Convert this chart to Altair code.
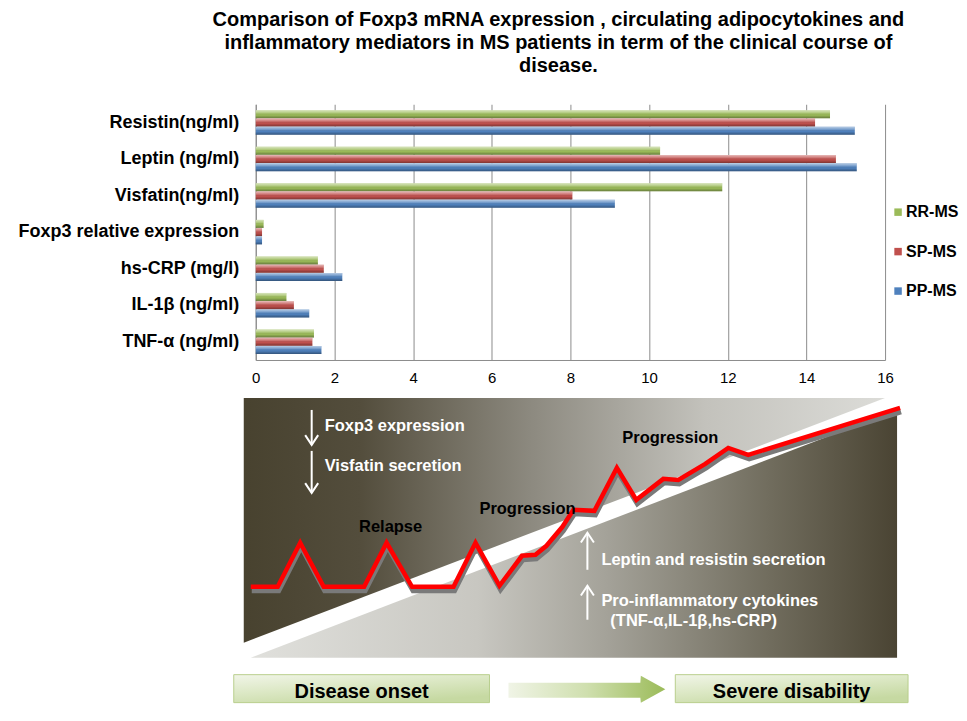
import altair as alt
import pandas as pd

FONT = "Liberation Sans"

# ---------------- bar chart data ----------------
categories = ["Resistin(ng/ml)", "Leptin (ng/ml)", "Visfatin(ng/ml)",
              "Foxp3 relative expression", "hs-CRP (mg/l)", "IL-1β (ng/ml)", "TNF-α (ng/ml)"]
series_names = ["RR-MS", "SP-MS", "PP-MS"]
rr_ms = [14.6, 10.28, 11.86, 0.2, 1.58, 0.78, 1.48]
sp_ms = [14.22, 14.75, 8.05, 0.16, 1.73, 0.97, 1.44]
pp_ms = [15.23, 15.28, 9.13, 0.16, 2.2, 1.36, 1.67]
x_ticks = [0, 2, 4, 6, 8, 10, 12, 14, 16]
series_colors = ["#9BBB59", "#C0504D", "#4F81BD"]
title_lines = ["Comparison of Foxp3 mRNA expression , circulating adipocytokines and",
               "inflammatory mediators  in MS patients in term of the clinical course of",
               "disease."]

# ---------------- schematic (disease course) data ----------------
# upper-left panel (gradient dark -> light)
upper_u = [-12, 630]
upper_top = [320, 320]
upper_bottom = [75, 320]
# lower-right panel (gradient light -> dark)
lower_u = [-5, 642]
lower_top = [60, 308]
lower_bottom = [60, 60]
# clinical course line
course_u = [-5, 22, 44.5, 68, 108.5, 131, 156.5, 198, 220, 244, 266.5, 280, 291, 307,
            318, 339, 361.5, 381, 408, 423, 450, 473, 493, 645]
course_v = [131, 131, 175, 131, 131, 175, 131, 131, 175, 132, 162, 163, 172, 191,
            208, 207, 250, 218, 239, 238, 254, 270, 263, 310]
# white annotations (left aligned)
note_text = ["Foxp3 expression", "Visfatin secretion", "Leptin and resistin secretion",
             "Pro-inflammatory cytokines", "(TNF-α,IL-1β,hs-CRP)"]
note_u = [69, 69, 346, 346, 355]
note_v = [292, 252, 158, 117, 97]
# phase labels (centered, black)
phase_text = ["Relapse", "Progression", "Progression"]
phase_u = [135, 272, 415]
phase_v = [191, 209, 280]
# thin arrows
arrow_u = [56, 56, 332, 332]
arrow_tail = [308, 267, 148, 98]
arrow_tip = [273, 225, 185, 132]
arrow_dir = ["down", "down", "up", "up"]
# boxes at the bottom
box_text = ["Disease onset", "Severe disability"]
box_u1 = [-22, 420]
box_u2 = [234, 653]
box_v1 = [15, 15]
box_v2 = [43, 43]
# block arrow between boxes
block_u = [253, 385, 385.5, 410]
block_top = [35, 35, 42, 28.5]
block_bottom = [20, 20, 15, 28.5]

# ================= top chart =================
bars_df = pd.DataFrame({
    "category": categories * 3,
    "series": [s for s in series_names for _ in categories],
    "value": rr_ms + sp_ms + pp_ms,
})

y_enc = alt.Y("category:N", sort=categories,
              scale=alt.Scale(paddingInner=0.33, paddingOuter=0.165),
              axis=alt.Axis(title=None, labelFontSize=18, labelFontWeight="bold",
                            labelColor="black", labelFont=FONT, labelPadding=17,
                            ticks=False, domainColor="#8c8c8c", labelLimit=400))
x_enc = alt.X("value:Q", scale=alt.Scale(domain=[0, 16], nice=False),
              axis=alt.Axis(values=x_ticks, title=None, labelFontSize=15, labelColor="black",
                            labelFont=FONT, grid=True, gridColor="#8c8c8c", ticks=False,
                            domainColor="#8c8c8c", labelPadding=11, labelFlush=False))
yoff = alt.YOffset("series:N", sort=series_names, scale=alt.Scale(paddingInner=0.03))

bars = alt.Chart(bars_df).mark_bar().encode(
    x=x_enc, y=y_enc, yOffset=yoff,
    color=alt.Color("series:N", sort=series_names,
                    scale=alt.Scale(domain=series_names, range=series_colors),
                    legend=alt.Legend(title=None, orient="none", legendX=635, legendY=100,
                                      labelFontSize=16, labelFontWeight="bold", labelFont=FONT,
                                      labelColor="black", symbolType="square", symbolSize=56,
                                      symbolStrokeWidth=0, rowPadding=23.5, labelOffset=0)),
)
shine = alt.Chart(bars_df).mark_bar(
    color=alt.Gradient(gradient="linear", x1=0, x2=0, y1=0, y2=1, stops=[
        alt.GradientStop(color="rgba(255,255,255,0.6)", offset=0),
        alt.GradientStop(color="rgba(255,255,255,0.2)", offset=0.35),
        alt.GradientStop(color="rgba(0,0,0,0)", offset=0.6),
        alt.GradientStop(color="rgba(0,0,0,0.35)", offset=1),
    ])
).encode(x=x_enc, y=y_enc, yOffset=yoff)

top = alt.layer(bars, shine).properties(
    width=630, height=256,
    title=alt.TitleParams(text=title_lines, fontSize=20, font=FONT, fontWeight="bold",
                          color="black", anchor="middle", frame="group", lineHeight=23,
                          offset=28, dx=-12),
)

# ================= bottom schematic =================
XS = alt.Scale(domain=[0, 645], nice=False, zero=False)
YS = alt.Scale(domain=[15, 320], nice=False, zero=False)


def bx(f):
    return alt.X(f, type="quantitative", scale=XS, axis=None)


def by(f):
    return alt.Y(f, type="quantitative", scale=YS, axis=None)


upper = alt.Chart(pd.DataFrame({"u": upper_u, "top": upper_top, "bottom": upper_bottom})).mark_area(
    color=alt.Gradient(gradient="linear", x1=0, x2=1, y1=0, y2=0, stops=[
        alt.GradientStop(color="#48422f", offset=0),
        alt.GradientStop(color="#534d3c", offset=0.18),
        alt.GradientStop(color="#8d8a80", offset=0.45),
        alt.GradientStop(color="#c3c2bc", offset=0.72),
        alt.GradientStop(color="#dcdcd8", offset=1),
    ])
).encode(x=bx("u"), y=by("top"), y2=alt.Y2("bottom"))

lower = alt.Chart(pd.DataFrame({"u": lower_u, "top": lower_top, "bottom": lower_bottom})).mark_area(
    color=alt.Gradient(gradient="linear", x1=0, x2=1, y1=0, y2=0, stops=[
        alt.GradientStop(color="#e0e0dc", offset=0),
        alt.GradientStop(color="#c8c7c1", offset=0.35),
        alt.GradientStop(color="#a4a299", offset=0.55),
        alt.GradientStop(color="#716d5e", offset=0.8),
        alt.GradientStop(color="#4a4433", offset=1),
    ])
).encode(x=bx("u"), y=by("top"), y2=alt.Y2("bottom"))

course_df = pd.DataFrame({"u": course_u, "v": course_v, "i": list(range(len(course_u)))})
shadow = alt.Chart(course_df).mark_line(color="#7a7a7a", strokeWidth=5, yOffset=4, xOffset=1,
                                        strokeJoin="miter").encode(
    x=bx("u"), y=by("v"), order="i:Q")
course = alt.Chart(course_df).mark_line(color="#ff0000", strokeWidth=4.5, strokeJoin="miter").encode(
    x=bx("u"), y=by("v"), order="i:Q")

arrows_df = pd.DataFrame({"u": arrow_u, "tail": arrow_tail, "tip": arrow_tip, "dir": arrow_dir})
stems = alt.Chart(arrows_df).mark_rule(color="white", strokeWidth=2).encode(
    x=bx("u"), y=by("tail"), y2=alt.Y2("tip"))
heads_down = alt.Chart(arrows_df).transform_filter(alt.datum.dir == "down").mark_point(
    shape="M-1,-1.5L0,0L1,-1.5", filled=False, color="white", strokeWidth=2, size=169, opacity=1
).encode(x=bx("u"), y=by("tip"))
heads_up = alt.Chart(arrows_df).transform_filter(alt.datum.dir == "up").mark_point(
    shape="M-1,1.5L0,0L1,1.5", filled=False, color="white", strokeWidth=2, size=169, opacity=1
).encode(x=bx("u"), y=by("tip"))

notes = alt.Chart(pd.DataFrame({"u": note_u, "v": note_v, "t": note_text})).mark_text(
    align="left", baseline="middle", color="white", font=FONT, fontWeight="bold", fontSize=16.5
).encode(x=bx("u"), y=by("v"), text="t:N")
phases = alt.Chart(pd.DataFrame({"u": phase_u, "v": phase_v, "t": phase_text})).mark_text(
    align="center", baseline="middle", color="black", font=FONT, fontWeight="bold", fontSize=16.5
).encode(x=bx("u"), y=by("v"), text="t:N")

boxes_df = pd.DataFrame({"u1": box_u1, "u2": box_u2, "v1": box_v1, "v2": box_v2, "t": box_text,
                         "uc": [(a + b) / 2 for a, b in zip(box_u1, box_u2)],
                         "vc": [26, 26]})
boxes = alt.Chart(boxes_df).mark_rect(
    color=alt.Gradient(gradient="linear", x1=0, x2=0.6, y1=0, y2=1, stops=[
        alt.GradientStop(color="#f1f5e8", offset=0),
        alt.GradientStop(color="#dce8c5", offset=0.5),
        alt.GradientStop(color="#c6d9a2", offset=1),
    ]),
    stroke="#b9cf8e", strokeWidth=1
).encode(x=bx("u1"), x2=alt.X2("u2"), y=by("v1"), y2=alt.Y2("v2"))
box_labels = alt.Chart(boxes_df).mark_text(
    align="center", baseline="middle", color="black", font=FONT, fontWeight="bold", fontSize=20
).encode(x=bx("uc"), y=by("vc"), text="t:N")

block = alt.Chart(pd.DataFrame({"u": block_u, "top": block_top, "bottom": block_bottom})).mark_area(
    color=alt.Gradient(gradient="linear", x1=0, x2=1, y1=0, y2=0, stops=[
        alt.GradientStop(color="#f0f4e6", offset=0),
        alt.GradientStop(color="#cfdfae", offset=0.5),
        alt.GradientStop(color="#9bbb59", offset=1),
    ])
).encode(x=bx("u"), y=by("top"), y2=alt.Y2("bottom"))

bottom = alt.layer(upper, lower, shadow, course, stems, heads_down, heads_up, notes, phases,
                   boxes, box_labels, block).properties(width=645, height=305)

chart = alt.vconcat(top, bottom, spacing=12).resolve_scale(
    x="independent", y="independent", color="independent"
).resolve_legend(color="independent").properties(
    padding={"left": 9, "top": 2, "right": 0, "bottom": 0}
).configure_view(stroke=None)

chart.save("out.html", embed_options={"renderer": "svg", "actions": False})
